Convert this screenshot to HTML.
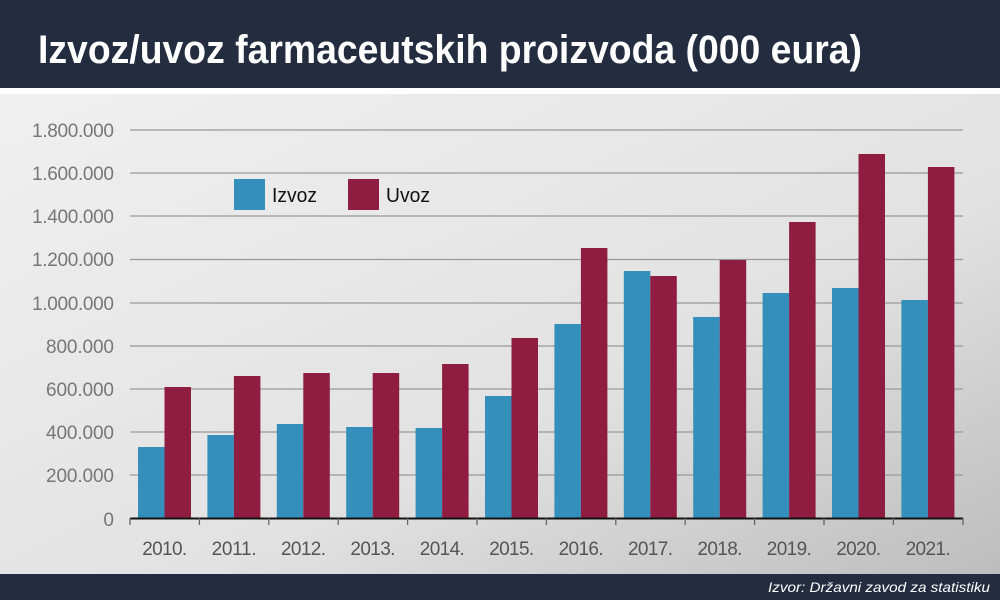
<!DOCTYPE html>
<html><head><meta charset="utf-8"><style>
body{margin:0;width:1000px;height:600px;overflow:hidden;font-family:"Liberation Sans",sans-serif;}
</style></head><body>
<svg width="1000" height="600" xmlns="http://www.w3.org/2000/svg" font-family="Liberation Sans, sans-serif">
<defs><linearGradient id="g" x1="0" y1="0" x2="1" y2="1">
<stop offset="0" stop-color="#f0f0f0"/><stop offset="0.6" stop-color="#e2e2e2"/><stop offset="1" stop-color="#bdbdbd"/></linearGradient></defs>
<rect width="1000" height="600" fill="#fff"/>
<rect x="0" y="0" width="1000" height="88" fill="#232d3f"/>
<text x="38" y="63" font-weight="bold" font-size="40" fill="#fff" textLength="824" lengthAdjust="spacingAndGlyphs">Izvoz/uvoz farmaceutskih proizvoda (000 eura)</text>
<rect x="0" y="94" width="1000" height="480" fill="url(#g)"/>
<rect x="0" y="574" width="1000" height="26" fill="#232d3f"/>
<text x="990" y="592" text-anchor="end" font-style="italic" font-size="14" fill="#fff" textLength="222" lengthAdjust="spacingAndGlyphs">Izvor: Državni zavod za statistiku</text>
<g stroke="#999" stroke-width="1.3">
<line x1="130" x2="963" y1="130" y2="130"/><line x1="130" x2="963" y1="173" y2="173"/>
<line x1="130" x2="963" y1="216" y2="216"/><line x1="130" x2="963" y1="259.5" y2="259.5"/>
<line x1="130" x2="963" y1="303" y2="303"/><line x1="130" x2="963" y1="346" y2="346"/>
<line x1="130" x2="963" y1="389" y2="389"/><line x1="130" x2="963" y1="432" y2="432"/>
<line x1="130" x2="963" y1="475" y2="475"/>
</g>
<g font-size="19" fill="#777" text-anchor="end" lengthAdjust="spacingAndGlyphs">
<text x="114" y="137" textLength="82">1.800.000</text><text x="114" y="180" textLength="82">1.600.000</text><text x="114" y="223" textLength="82">1.400.000</text>
<text x="114" y="266" textLength="82">1.200.000</text><text x="114" y="310" textLength="82">1.000.000</text><text x="114" y="353" textLength="68">800.000</text>
<text x="114" y="396" textLength="68">600.000</text><text x="114" y="439" textLength="68">400.000</text><text x="114" y="482" textLength="68">200.000</text>
<text x="114" y="526">0</text>
</g>
<g fill="#3490bb">
<rect x="138" y="447" width="26.5" height="71"/>
<rect x="207.4" y="435" width="26.5" height="83"/>
<rect x="276.8" y="424" width="26.5" height="94"/>
<rect x="346.2" y="427" width="26.5" height="91"/>
<rect x="415.6" y="428" width="26.5" height="90"/>
<rect x="485" y="396" width="26.5" height="122"/>
<rect x="554.4" y="324" width="26.5" height="194"/>
<rect x="623.8" y="271" width="26.5" height="247"/>
<rect x="693.2" y="317" width="26.5" height="201"/>
<rect x="762.6" y="293" width="26.5" height="225"/>
<rect x="832" y="288" width="26.5" height="230"/>
<rect x="901.4" y="300" width="26.5" height="218"/>
</g>
<g fill="#8f1d42">
<rect x="164.5" y="387" width="26.5" height="131"/>
<rect x="233.9" y="376" width="26.5" height="142"/>
<rect x="303.3" y="373" width="26.5" height="145"/>
<rect x="372.7" y="373" width="26.5" height="145"/>
<rect x="442.1" y="364" width="26.5" height="154"/>
<rect x="511.5" y="338" width="26.5" height="180"/>
<rect x="580.9" y="248" width="26.5" height="270"/>
<rect x="650.3" y="276" width="26.5" height="242"/>
<rect x="719.7" y="260" width="26.5" height="258"/>
<rect x="789.1" y="222" width="26.5" height="296"/>
<rect x="858.5" y="154" width="26.5" height="364"/>
<rect x="927.9" y="167" width="26.5" height="351"/>
</g>
<line x1="130" x2="963" y1="518.5" y2="518.5" stroke="#111" stroke-width="2"/>
<g stroke="#666" stroke-width="1.3">
<line x1="130" x2="130" y1="518" y2="525"/><line x1="199.4" x2="199.4" y1="518" y2="525"/>
<line x1="268.8" x2="268.8" y1="518" y2="525"/><line x1="338.2" x2="338.2" y1="518" y2="525"/>
<line x1="407.6" x2="407.6" y1="518" y2="525"/><line x1="477" x2="477" y1="518" y2="525"/>
<line x1="546.4" x2="546.4" y1="518" y2="525"/><line x1="615.8" x2="615.8" y1="518" y2="525"/>
<line x1="685.2" x2="685.2" y1="518" y2="525"/><line x1="754.6" x2="754.6" y1="518" y2="525"/>
<line x1="824" x2="824" y1="518" y2="525"/><line x1="893.4" x2="893.4" y1="518" y2="525"/>
<line x1="963" x2="963" y1="518" y2="525"/>
</g>
<g font-size="19" fill="#555" text-anchor="middle" lengthAdjust="spacingAndGlyphs">
<text x="164.7" y="555" textLength="45">2010.</text><text x="234.1" y="555" textLength="45">2011.</text>
<text x="303.5" y="555" textLength="45">2012.</text><text x="372.9" y="555" textLength="45">2013.</text>
<text x="442.3" y="555" textLength="45">2014.</text><text x="511.7" y="555" textLength="45">2015.</text>
<text x="581.1" y="555" textLength="45">2016.</text><text x="650.5" y="555" textLength="45">2017.</text>
<text x="719.9" y="555" textLength="45">2018.</text><text x="789.3" y="555" textLength="45">2019.</text>
<text x="858.7" y="555" textLength="45">2020.</text><text x="928.1" y="555" textLength="45">2021.</text>
</g>
<rect x="234" y="179" width="31" height="31" fill="#3490bb"/>
<text x="272" y="202" font-size="20" fill="#111" textLength="45" lengthAdjust="spacingAndGlyphs">Izvoz</text>
<rect x="348" y="179" width="31" height="31" fill="#8f1d42"/>
<text x="386" y="202" font-size="20" fill="#111" textLength="44" lengthAdjust="spacingAndGlyphs">Uvoz</text>
</svg>
</body></html>
